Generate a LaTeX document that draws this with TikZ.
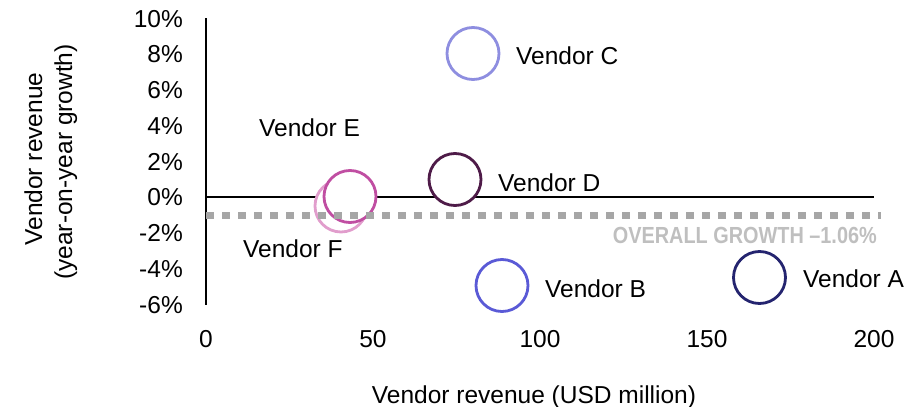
\documentclass[tikz,border=0pt]{standalone}
\usepackage{fontspec}
\usepackage{graphicx}
\setmainfont{Liberation Sans}
\definecolor{vendA}{HTML}{24246F}
\definecolor{vendB}{HTML}{5A5AD6}
\definecolor{vendC}{HTML}{8E8EE0}
\definecolor{vendD}{HTML}{4E1B48}
\definecolor{vendE}{HTML}{C04EA2}
\definecolor{vendF}{HTML}{E19DCC}
\definecolor{avgline}{HTML}{A6A6A6}
\definecolor{avgtext}{HTML}{BFBFBF}
\tikzset{
  txt/.style={inner sep=0pt, font=\fontsize{24.5}{29}\selectfont, text=black},
  bubble/.style={circle, draw=#1, fill=white, line width=2.8pt, minimum size=52pt, inner sep=0pt},
  axisline/.style={line width=2pt, black},
  zeroline/.style={line width=1.3pt, black},
  avg/.style={avgline, line width=7pt, dash pattern=on 7.5pt off 8.5pt}
}
\begin{document}
\begin{tikzpicture}[x=1pt, y=-1pt]
  \useasboundingbox (0,0) rectangle (922,407);
  % plot frame: y axis and the zero-growth line
  \coordinate (ytop) at (206,18);
  \coordinate (ybot) at (206,304.5);
  \coordinate (zl) at (206,197);
  \coordinate (zr) at (874,197);
  \draw[axisline] (ytop) -- (ybot);
  \draw[zeroline] (zl) -- (zr);
  % y tick labels (1% = 17.87 units)
  \foreach \v [count=\i] in {10,8,6,4,2,0,-2,-4,-6}
    \node[txt, anchor=base east] (yt\i) at (183,{197-17.87*\v+8.8}) {\v\%};
  % x tick labels (1 USD million = 3.34 units)
  \foreach \v [count=\i] in {0,50,100,150,200}
    \node[txt, anchor=base] (xt\i) at ({206+3.34*\v},347) {\v};
  % axis titles
  \node[txt, anchor=base, rotate=90] (ytitleA) at (42,159) {Vendor revenue};
  \node[txt, anchor=base, rotate=90] (ytitleB) at (72,162) {(year-on-year growth)};
  \node[txt, anchor=base] (xtitle) at (534,403) {Vendor revenue (USD million)};
  % vendor bubbles
  \node[bubble=vendF] (bF) at (341,206) {};
  \node[bubble=vendE] (bE) at (350,196.5) {};
  \node[bubble=vendD] (bD) at (455,179.5) {};
  \node[bubble=vendC] (bC) at (473,53.5) {};
  \node[bubble=vendB] (bB) at (502,285.5) {};
  \node[bubble=vendA] (bA) at (759.5,277.5) {};
  % vendor labels
  \node[txt, anchor=base west] (lC) at (516,64) {Vendor C};
  \node[txt, anchor=base west] (lE) at (259,136) {Vendor E};
  \node[txt, anchor=base west] (lD) at (498,191) {Vendor D};
  \node[txt, anchor=base west] (lF) at (243,257) {Vendor F};
  \node[txt, anchor=base west] (lB) at (545,297) {Vendor B};
  \node[txt, anchor=base west] (lA) at (803,287) {Vendor A};
  % overall growth reference line
  \coordinate (avgL) at (206,215);
  \coordinate (avgR) at (881,215);
  \draw[avg] (avgL) -- (avgR);
  \node[inner sep=0pt, anchor=base east, text=avgtext, font=\fontsize{23.3}{28}\selectfont\bfseries] (avgLabel) at (877,243)
    {\scalebox{0.853}[1]{OVERALL GROWTH –1.06\%}};
\end{tikzpicture}
\end{document}
